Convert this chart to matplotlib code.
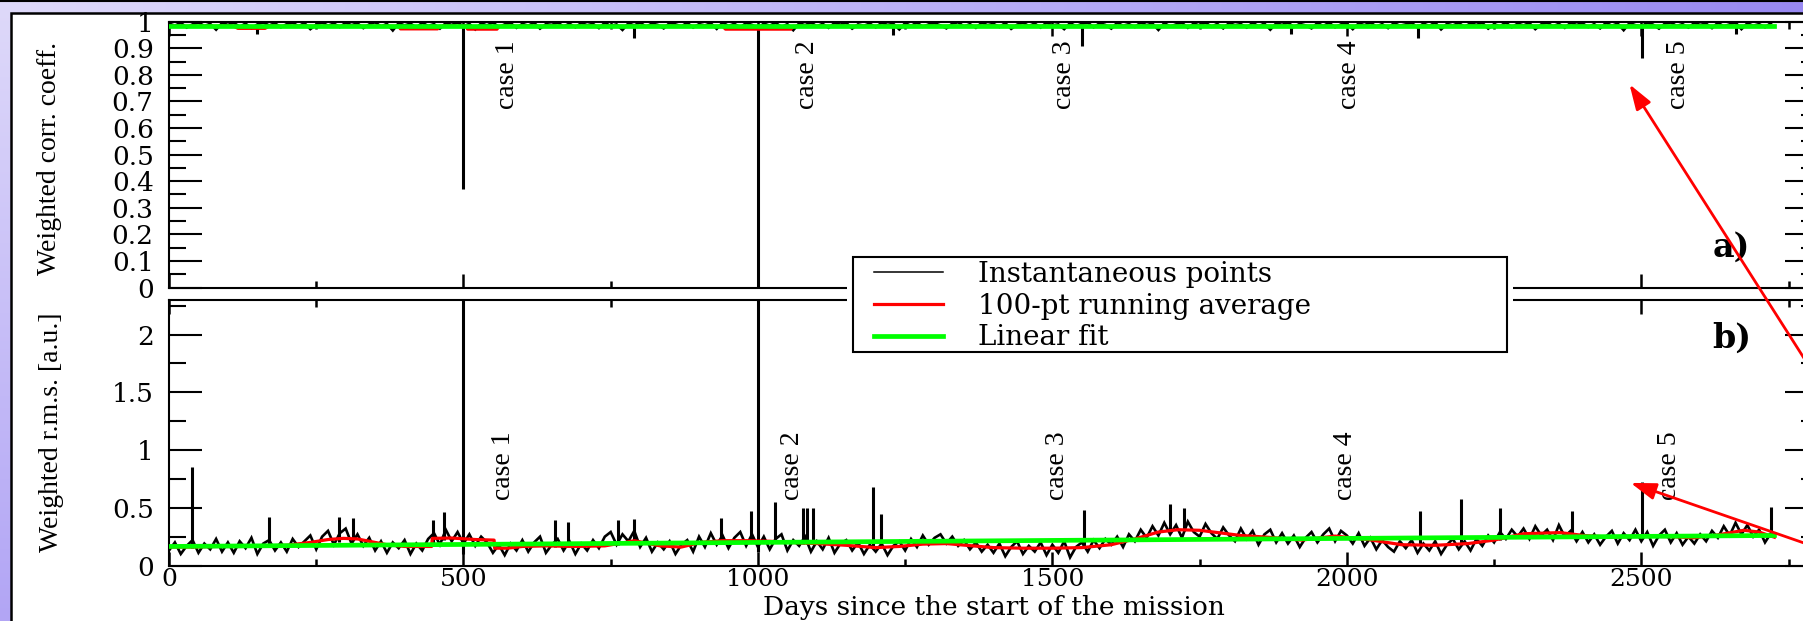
import numpy as np
import matplotlib
matplotlib.use("Agg")
import matplotlib.pyplot as plt
from matplotlib.patches import Rectangle, FancyArrowPatch
from matplotlib.lines import Line2D
from matplotlib.ticker import FixedLocator, FixedFormatter, MultipleLocator

W, H, DPI = 1803, 621, 100

# ---------------- data ----------------
day_step = 10  # instantaneous points sampled every 10 days, starting at day 0

corr_inst = [
    .993, .985, .996, .978, .99, .997, .984, .992, .97, .995,
    .988, .996, .981, .993, .975, .99, .997, .986, .994, .979,
    .991, .996, .983, .995, .972, .989, .997, .985, .993, .98,
    .996, .987, .994, .976, .99, .998, .982, .992, .967, .995,
    .986, .993, .978, .996, .984, .991, .974, .995, .988, .997,
    .983, .992, .971, .994, .986, .997, .98, .99, .995, .977,
    .992, .985, .996, .974, .991, .988, .997, .982, .993, .979,
    .995, .987, .992, .976, .996, .984, .99, .969, .994, .986,
    .997, .981, .993, .988, .975, .995, .99, .983, .996, .978,
    .991, .986, .994, .973, .997, .984, .992, .979, .995, .988,
    .976, .993, .985, .996, .98, .991, .968, .994, .987, .997,
    .983, .992, .977, .995, .989, .996, .974, .99, .985, .993,
    .979, .996, .988, .992, .971, .995, .984, .997, .981, .99,
    .994, .986, .975, .993, .998, .982, .991, .977, .996, .987,
    .992, .98, .995, .973, .989, .996, .984, .993, .978, .997,
    .986, .99, .972, .995, .983, .992, .997, .979, .994, .988,
    .974, .996, .985, .991, .98, .997, .987, .993, .969, .995,
    .982, .99, .996, .977, .993, .986, .997, .981, .992, .975,
    .995, .987, .991, .978, .996, .983, .993, .97, .994, .988,
    .997, .98, .992, .986, .975, .995, .984, .996, .979, .99,
    .993, .972, .994, .987, .997, .982, .991, .976, .995, .985,
    .99, .996, .978, .993, .984, .997, .971, .992, .986, .995,
    .981, .994, .988, .996, .974, .991, .983, .997, .979, .993,
    .986, .995, .972, .99, .997, .983, .992, .977, .996, .988,
    .994, .98, .991, .975, .996, .985, .993, .968, .995, .987,
    .982, .996, .989, .974, .993, .997, .984, .991, .978, .995,
    .988, .993, .976, .996, .983, .99, .997, .972, .994, .985,
    .991, .979, .995,
]

rms_inst = [
    0.13, 0.20, 0.10, 0.17, 0.22, 0.11, 0.19, 0.14, 0.23, 0.12,
    0.20, 0.11, 0.21, 0.15, 0.24, 0.10, 0.19, 0.22, 0.13, 0.20,
    0.12, 0.23, 0.16, 0.21, 0.26, 0.14, 0.25, 0.30, 0.18, 0.28,
    0.32, 0.19, 0.27, 0.17, 0.24, 0.13, 0.21, 0.11, 0.20, 0.15,
    0.22, 0.10, 0.19, 0.13, 0.23, 0.28, 0.18, 0.31, 0.21, 0.29,
    0.19, 0.27, 0.17, 0.25, 0.20, 0.11, 0.18, 0.09, 0.19, 0.13,
    0.22, 0.12, 0.20, 0.25, 0.11, 0.18, 0.23, 0.13, 0.21, 0.10,
    0.19, 0.13, 0.22, 0.15, 0.25, 0.29, 0.18, 0.27, 0.21, 0.30,
    0.16, 0.24, 0.12, 0.20, 0.14, 0.21, 0.10, 0.18, 0.22, 0.12,
    0.25, 0.16, 0.28, 0.18, 0.26, 0.15, 0.24, 0.29, 0.17, 0.27,
    0.16, 0.25, 0.14, 0.23, 0.27, 0.13, 0.22, 0.17, 0.25, 0.12,
    0.21, 0.14, 0.24, 0.11, 0.19, 0.22, 0.13, 0.20, 0.10, 0.18,
    0.12, 0.19, 0.09, 0.17, 0.21, 0.13, 0.23, 0.16, 0.26, 0.18,
    0.24, 0.27, 0.19, 0.25, 0.17, 0.22, 0.14, 0.20, 0.12, 0.18,
    0.11, 0.19, 0.08, 0.16, 0.21, 0.10, 0.17, 0.12, 0.20, 0.09,
    0.18, 0.11, 0.21, 0.07, 0.16, 0.20, 0.12, 0.22, 0.15, 0.23,
    0.18, 0.25, 0.16, 0.27, 0.21, 0.31, 0.24, 0.34, 0.26, 0.37,
    0.27, 0.35, 0.24, 0.38, 0.29, 0.25, 0.36, 0.28, 0.23, 0.33,
    0.26, 0.21, 0.32, 0.23, 0.30, 0.18, 0.27, 0.31, 0.20, 0.28,
    0.19, 0.26, 0.16, 0.24, 0.29, 0.20, 0.27, 0.32, 0.21, 0.30,
    0.26, 0.19, 0.28, 0.17, 0.24, 0.14, 0.22, 0.16, 0.12, 0.21,
    0.15, 0.22, 0.11, 0.19, 0.13, 0.21, 0.10, 0.18, 0.23, 0.14,
    0.21, 0.13, 0.23, 0.17, 0.26, 0.20, 0.29, 0.23, 0.31, 0.25,
    0.32, 0.23, 0.34, 0.26, 0.31, 0.22, 0.35, 0.25, 0.30, 0.21,
    0.29, 0.20, 0.27, 0.18, 0.25, 0.30, 0.19, 0.28, 0.22, 0.31,
    0.21, 0.29, 0.17, 0.26, 0.31, 0.20, 0.28, 0.18, 0.25, 0.19,
    0.27, 0.21, 0.30, 0.24, 0.34, 0.26, 0.37, 0.27, 0.35, 0.25,
    0.31, 0.20, 0.28,
]

# isolated spikes: day, base value, tip value
corr_spike_days = [150, 500, 789, 1000, 1230, 1550, 1905, 2121, 2502, 2660]
corr_spike_base = [0.99, 0.99, 0.99, 0.99, 0.99, 0.99, 0.99, 0.99, 0.99, 0.99]
corr_spike_tips = [0.955, 0.37, 0.94, -0.10, 0.95, 0.91, 0.955, 0.94, 0.865, 0.955]

rms_spike_days = [39, 170, 289, 313, 449, 467, 500, 656, 677, 762, 789, 937, 988,
                  1000, 1029, 1076, 1084, 1093, 1196, 1209, 1553, 1699, 1724,
                  2125, 2193, 2260, 2383, 2502, 2720]
rms_spike_base = [0.15, 0.16, 0.20, 0.22, 0.17, 0.22, 0.10, 0.16, 0.16, 0.18, 0.20,
                  0.20, 0.21, 0.12, 0.20, 0.19, 0.19, 0.19, 0.16, 0.16, 0.15, 0.30,
                  0.30, 0.18, 0.18, 0.22, 0.26, 0.25, 0.25]
rms_spike_tips = [0.85, 0.42, 0.42, 0.41, 0.39, 0.46, 3.00, 0.39, 0.38, 0.39, 0.40,
                  0.41, 0.47, 3.00, 0.55, 0.50, 0.50, 0.50, 0.68, 0.45, 0.48, 0.53,
                  0.50, 0.47, 0.58, 0.50, 0.47, 0.72, 0.51]

# 100-pt running averages
corr_avg_days = [0, 110, 117, 163, 170, 390, 393, 456, 460, 505, 507, 557, 560,
                 940, 945, 1056, 1060, 2726]
corr_avg_vals = [0.983, 0.983, 0.975, 0.975, 0.983, 0.983, 0.973, 0.973, 0.983,
                 0.983, 0.972, 0.972, 0.983, 0.983, 0.972, 0.972, 0.983, 0.983]

rms_avg_days = [0, 40, 80, 120, 160, 200, 240, 270, 296, 320, 340, 370, 400, 430,
                446, 447, 480, 520, 552, 553, 575, 600, 640, 690, 740, 775, 790,
                805, 834, 870, 903, 940, 980, 1020, 1055, 1100, 1150, 1200, 1240,
                1280, 1320, 1365, 1400, 1450, 1500, 1550, 1600, 1640, 1680, 1713,
                1750, 1781, 1820, 1866, 1923, 1980, 2036, 2093, 2150, 2206, 2250,
                2300, 2362, 2402, 2450, 2504, 2550, 2589, 2630, 2674, 2700, 2726]
rms_avg_vals = [0.16, 0.16, 0.165, 0.165, 0.17, 0.175, 0.2, 0.225, 0.235, 0.23,
                0.21, 0.18, 0.165, 0.165, 0.165, 0.235, 0.238, 0.225, 0.22, 0.15,
                0.15, 0.165, 0.17, 0.165, 0.17, 0.2, 0.215, 0.2, 0.17, 0.16, 0.2,
                0.215, 0.215, 0.21, 0.2, 0.19, 0.175, 0.155, 0.165, 0.185, 0.19,
                0.17, 0.155, 0.15, 0.15, 0.155, 0.18, 0.23, 0.29, 0.31, 0.305,
                0.285, 0.26, 0.245, 0.22, 0.255, 0.225, 0.18, 0.175, 0.19, 0.22,
                0.275, 0.285, 0.26, 0.245, 0.255, 0.25, 0.24, 0.265, 0.305, 0.29,
                0.245]

# linear fits (end points)
fit_days = [0, 2726]
corr_fit_vals = [0.982, 0.982]
rms_fit_vals = [0.165, 0.26]

case_labels = ["case 1", "case 2", "case 3", "case 4", "case 5"]
case_days_a = [575, 1085, 1520, 2005, 2563]
case_days_b = [568, 1058, 1508, 1997, 2548]

x_ticks = [0, 500, 1000, 1500, 2000, 2500]
x_tick_labels = ["0", "500", "1000", "1500", "2000", "2500"]
corr_ticks = [0, 0.1, 0.2, 0.3, 0.4, 0.5, 0.6, 0.7, 0.8, 0.9, 1.0]
corr_tick_labels = ["0", "0.1", "0.2", "0.3", "0.4", "0.5", "0.6", "0.7", "0.8", "0.9", "1"]
rms_ticks = [0, 0.5, 1.0, 1.5, 2.0]
rms_tick_labels = ["0", "0.5", "1", "1.5", "2"]

legend_labels = ["Instantaneous points", "100-pt running average", "Linear fit"]
xlabel = "Days since the start of the mission"
ylabel_a = "Weighted corr. coeff."
ylabel_b = "Weighted r.m.s. [a.u.]"

# ---------------- figure ----------------
fig = plt.figure(figsize=(W / DPI, H / DPI), dpi=DPI)

def fx(px):
    return px / W

def fy(py):
    return 1 - py / H

# lavender slide background
ax_bg = fig.add_axes([0, 0, 1, 1], zorder=-10)
tl = np.array([0.87, 0.85, 0.98]); tr = np.array([0.60, 0.54, 0.95])
bl = np.array([0.70, 0.65, 0.96]); br = np.array([0.50, 0.45, 0.90])
u = np.linspace(0, 1, 64)[None, :, None]
v = np.linspace(0, 1, 32)[:, None, None]
grad = (1 - v) * ((1 - u) * tl + u * tr) + v * ((1 - u) * bl + u * br)
ax_bg.imshow(grad, aspect="auto", extent=[0, 1, 0, 1], interpolation="bilinear")
ax_bg.axis("off")

fig.add_artist(Rectangle((fx(10.5), -0.1), 1.2, fy(13) + 0.1, transform=fig.transFigure,
                         facecolor="white", edgecolor="black", lw=1.8, zorder=-5))
fig.add_artist(Line2D([0, 1], [fy(0.8), fy(0.8)], transform=fig.transFigure,
                      color="black", lw=1.5, zorder=-4))

left = fx(169)
width = fx(1818) - left
ax_a = fig.add_axes([left, fy(287.5), width, fy(21.7) - fy(287.5)])
ax_b = fig.add_axes([left, fy(565.5), width, fy(300) - fy(565.5)])

BLACK_LW, RED_LW, GREEN_LW = 1.9, 2.3, 3.4

def draw_panel(ax, inst, sd, sb, st, avg_d, avg_v, fit_v):
    x = np.arange(len(inst)) * day_step
    ax.plot(x, inst, color="black", lw=BLACK_LW, zorder=2, solid_joinstyle="miter")
    ax.vlines(sd, sb, st, color="black", lw=2.2, zorder=2)
    ax.plot(avg_d, avg_v, color="#ff0000", lw=RED_LW, zorder=3)
    ax.plot(fit_days, fit_v, color="#00ff00", lw=GREEN_LW, zorder=4)

draw_panel(ax_a, corr_inst, corr_spike_days, corr_spike_base, corr_spike_tips,
           corr_avg_days, corr_avg_vals, corr_fit_vals)
draw_panel(ax_b, rms_inst, rms_spike_days, rms_spike_base, rms_spike_tips,
           rms_avg_days, rms_avg_vals, rms_fit_vals)

ax_a.set_ylim(0, 1.0)
ax_b.set_ylim(0, 2.3)
for ax in (ax_a, ax_b):
    ax.set_xlim(0, 2800)
    ax.xaxis.set_major_locator(FixedLocator(x_ticks))
    ax.xaxis.set_minor_locator(MultipleLocator(250))
    for s in ax.spines.values():
        s.set_linewidth(1.5)
    ax.tick_params(axis="y", which="major", direction="in", length=24, width=1.5,
                   left=True, right=True, pad=11, labelsize=19)
    ax.tick_params(axis="y", which="minor", direction="in", length=12, width=1.5,
                   left=True, right=True)
    ax.tick_params(axis="x", which="major", direction="in", length=10, width=1.8,
                   top=True, bottom=True, pad=2, labelsize=18)
    ax.tick_params(axis="x", which="minor", direction="in", length=5, width=1.8,
                   top=True, bottom=True)

ax_a.yaxis.set_major_locator(FixedLocator(corr_ticks))
ax_a.yaxis.set_major_formatter(FixedFormatter(corr_tick_labels))
ax_a.yaxis.set_minor_locator(MultipleLocator(0.05))
ax_a.tick_params(axis="x", labelbottom=False)

ax_b.yaxis.set_major_locator(FixedLocator(rms_ticks))
ax_b.yaxis.set_major_formatter(FixedFormatter(rms_tick_labels))
ax_b.yaxis.set_minor_locator(MultipleLocator(0.25))
ax_b.xaxis.set_major_formatter(FixedFormatter(x_tick_labels))

for ax in (ax_a, ax_b):
    for lab in ax.get_xticklabels() + ax.get_yticklabels():
        lab.set_fontfamily("DejaVu Serif")

ax_a.set_ylabel(ylabel_a, fontfamily="Liberation Serif", fontsize=20)
ax_a.yaxis.set_label_coords((62 - 169) / 1649, 0.487)
ax_b.set_ylabel(ylabel_b, fontfamily="Liberation Serif", fontsize=20)
ax_b.yaxis.set_label_coords((64 - 169) / 1649, 0.503)
ax_b.set_xlabel(xlabel, fontfamily="DejaVu Serif", fontsize=19)
ax_b.xaxis.set_label_coords(0.5, (565.5 - 594.5) / 265.5)

for d, lab in zip(case_days_a, case_labels):
    ax_a.text(d, 0.80, lab, rotation=90, ha="center", va="center",
              fontfamily="Liberation Serif", fontsize=20)
for d, lab in zip(case_days_b, case_labels):
    ax_b.text(d, 0.863, lab, rotation=90, ha="center", va="center",
              fontfamily="Liberation Serif", fontsize=20)

ax_a.text(2653, 0.15, "a)", ha="center", va="center", fontfamily="DejaVu Serif",
          fontsize=24, fontweight="bold")
ax_b.text(2653, 1.97, "b)", ha="center", va="center", fontfamily="DejaVu Serif",
          fontsize=24, fontweight="bold")

# legend box (spans both panels)
fig.add_artist(Rectangle((fx(847), fy(358)), fx(1513) - fx(847), fy(251) - fy(358),
                         transform=fig.transFigure, facecolor="white",
                         edgecolor="none", zorder=4))
fig.add_artist(Rectangle((fx(853), fy(352)), fx(1507) - fx(853), fy(257) - fy(352),
                         transform=fig.transFigure, facecolor="white",
                         edgecolor="black", lw=1.5, zorder=4.5))
handles = [Line2D([], [], color="black", lw=1.1),
           Line2D([], [], color="#ff0000", lw=RED_LW),
           Line2D([], [], color="#00ff00", lw=GREEN_LW)]
leg = fig.legend(handles, legend_labels, loc="upper left",
                 bbox_to_anchor=(fx(874), fy(261)), frameon=False,
                 borderpad=0, borderaxespad=0, labelspacing=0.17,
                 handlelength=2.5, handletextpad=1.25,
                 prop={"family": "DejaVu Serif", "size": 20})
leg.set_zorder(6)

# red arrows
for tail, head in [((1830, 399), (1628, 82)), ((1830, 552), (1628, 482))]:
    arr = FancyArrowPatch((fx(tail[0]), fy(tail[1])), (fx(head[0]), fy(head[1])),
                          transform=fig.transFigure,
                          arrowstyle="-|>,head_length=0.9,head_width=0.3",
                          mutation_scale=17, color="#ff0000", lw=2.0, zorder=7)
    fig.add_artist(arr)

fig.savefig("out.png", dpi=DPI)
